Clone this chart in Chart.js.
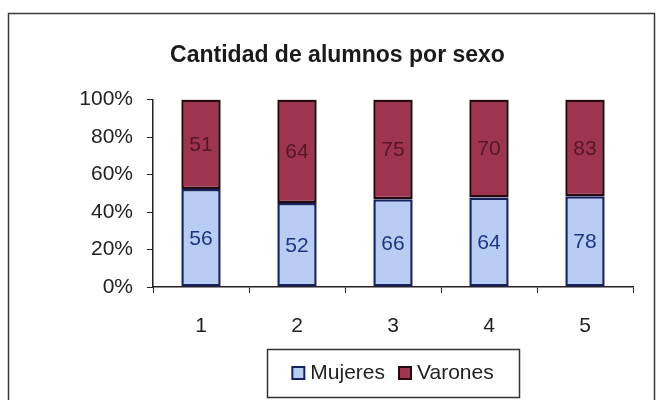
<!DOCTYPE html>
<html>
<head>
<meta charset="utf-8">
<script src="https://cdn.jsdelivr.net/npm/chart.js@4/dist/chart.umd.min.js"></script>
<style>
  html, body { margin: 0; padding: 0; background: #fff; }
  canvas { display: block; }
</style>
</head>
<body>
<canvas id="chart" width="657" height="400"></canvas>
<script>
// datos del grafico
const categories = ['1', '2', '3', '4', '5'];
const seriesNames = ['Mujeres', 'Varones'];
const mujeres = [56, 52, 66, 64, 78];
const varones = [51, 64, 75, 70, 83];
const yTickValues = [0, 20, 40, 60, 80, 100];

// 100% apilado
const totals = mujeres.map((m, i) => m + varones[i]);
const mujeresPct = mujeres.map((m, i) => m / totals[i] * 100);
const varonesPct = varones.map((v, i) => v / totals[i] * 100);

const FONT = '"Liberation Sans", Arial, sans-serif';
const fills = ['#b9ccf4', '#9d3550'];
const edges = ['#16225c', '#250a12'];

// marco exterior
const framePlugin = {
    id: 'frame',
    beforeDraw(chart) {
        const ctx = chart.ctx;
        ctx.save();
        ctx.fillStyle = '#fff';
        ctx.fillRect(0, 0, chart.width, chart.height);
        ctx.strokeStyle = '#3a3a3a';
        ctx.lineWidth = 1.5;
        ctx.strokeRect(8.5, 13.5, 646, 400);
        ctx.restore();
    }
};

// etiquetas con el valor dentro de cada segmento
const valueLabels = {
    id: 'valueLabels',
    afterDatasetsDraw(chart) {
        const ctx = chart.ctx;
        const raw = [mujeres, varones];
        const colors = ['#1d3580', '#571627'];
        ctx.save();
        ctx.font = '21px ' + FONT;
        ctx.textAlign = 'center';
        ctx.textBaseline = 'middle';
        chart.data.datasets.forEach((ds, di) => {
            const meta = chart.getDatasetMeta(di);
            ctx.fillStyle = colors[di];
            meta.data.forEach((bar, i) => {
                const y = (bar.y + bar.base) / 2;
                ctx.fillText(String(raw[di][i]), bar.x, y + 1);
            });
        });
        ctx.restore();
    }
};

// leyenda con recuadro, centrada bajo el area del grafico
const boxLegend = {
    id: 'boxLegend',
    afterDraw(chart) {
        const ctx = chart.ctx;
        const area = chart.chartArea;
        const cx = (area.left + area.right) / 2;
        const w = 252, h = 48, top = 349;
        const left = Math.round(cx - w / 2);
        ctx.save();
        ctx.strokeStyle = '#333';
        ctx.lineWidth = 1.5;
        ctx.strokeRect(left + 0.5, top + 0.5, w, h);

        ctx.font = '21px ' + FONT;
        ctx.textBaseline = 'middle';
        const mk = 12, gapText = 6, gapItem = 14;
        const widths = seriesNames.map(n => ctx.measureText(n).width);
        const total = widths.reduce((a, b) => a + b, 0) + seriesNames.length * (mk + gapText) + gapItem;
        let x = cx - total / 2;
        const cy = top + h / 2;
        seriesNames.forEach((name, i) => {
            ctx.fillStyle = fills[i];
            ctx.fillRect(x, cy - mk / 2, mk, mk);
            ctx.strokeStyle = edges[i];
            ctx.lineWidth = 2;
            ctx.strokeRect(x, cy - mk / 2, mk, mk);
            x += mk + gapText;
            ctx.fillStyle = '#222';
            ctx.fillText(name, x, cy);
            x += widths[i] + gapItem;
        });
        ctx.restore();
    }
};

new Chart(document.getElementById('chart'), {
    type: 'bar',
    data: {
        labels: categories,
        datasets: [
            {
                label: seriesNames[0],
                data: mujeresPct,
                backgroundColor: fills[0],
                borderColor: edges[0],
                borderWidth: 2.5,
                borderSkipped: false
            },
            {
                label: seriesNames[1],
                data: varonesPct,
                backgroundColor: fills[1],
                borderColor: edges[1],
                borderWidth: 2.5,
                borderSkipped: false
            }
        ]
    },
    options: {
        responsive: false,
        devicePixelRatio: 1,
        animation: false,
        datasets: {
            bar: { categoryPercentage: 1, barPercentage: 0.41 }
        },
        layout: { padding: { top: 0, left: 42, right: 24, bottom: 58 } },
        plugins: {
            tooltip: { enabled: false },
            legend: { display: false },
            title: {
                display: true,
                text: 'Cantidad de alumnos por sexo',
                color: '#1a1a1a',
                font: { family: FONT, size: 23, weight: 'bold' },
                padding: { top: 42, bottom: 30 }
            }
        },
        scales: {
            x: {
                stacked: true,
                grid: { drawOnChartArea: false, drawTicks: true, tickLength: 6, color: '#222', offset: true },
                border: { display: true, color: '#222', width: 1.5 },
                ticks: { color: '#222', font: { family: FONT, size: 21 }, padding: 21 },
                afterFit(scale) { scale.height = 55; }
            },
            y: {
                stacked: true,
                min: 0,
                max: 100,
                afterBuildTicks(scale) {
                    scale.ticks = yTickValues.map(v => ({ value: v }));
                },
                grid: { drawOnChartArea: false, drawTicks: true, tickLength: 6, color: '#222' },
                border: { display: true, color: '#222', width: 1.5 },
                ticks: {
                    color: '#222',
                    font: { family: FONT, size: 21 },
                    padding: 14,
                    callback: v => v + '%'
                },
                afterFit(scale) { scale.width = 111; }
            }
        }
    },
    plugins: [framePlugin, valueLabels, boxLegend]
});
</script>
</body>
</html>
